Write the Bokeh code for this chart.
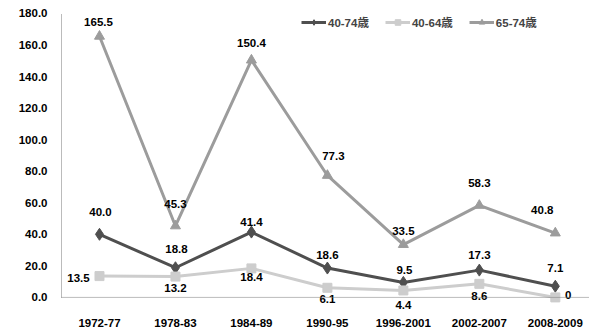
from bokeh.plotting import figure
from bokeh.models import Range1d, FixedTicker, NumeralTickFormatter, Span, Legend, LegendItem, ColumnDataSource
from bokeh.core.properties import value
from bokeh.embed import file_html
from bokeh.resources import INLINE

categories = ["1972-77", "1978-83", "1984-89", "1990-95", "1996-2001", "2002-2007", "2008-2009"]
series_names = ["40-74歳", "40-64歳", "65-74歳"]
s_40_74 = [40.0, 18.8, 41.4, 18.6, 9.5, 17.3, 7.1]
s_40_64 = [13.5, 13.2, 18.4, 6.1, 4.4, 8.6, 0]
s_65_74 = [165.5, 45.3, 150.4, 77.3, 33.5, 58.3, 40.8]
y_ticks = [0, 20, 40, 60, 80, 100, 120, 140, 160, 180]

FONT = "Liberation Sans, Noto Sans CJK JP"
FS = "11.5px"

# label offsets (screen px)
off_40_74 = [(1, -22), (1, -19), (0, -10), (0, -13), (1, -12), (0, -15), (0, -18)]
off_40_64 = [(-21, 2), (0, 11), (0, 9), (0, 11), (0, 15), (0, 12), (13, -2)]
off_65_74 = [(-1, -14), (0, -22), (0, -17), (6, -19), (0, -14), (0, -22), (-13, -23)]

xs = list(range(len(categories)))

p = figure(width=589, height=330, output_backend="svg", toolbar_location=None,
           x_range=Range1d(-0.5, 6.45), y_range=Range1d(-8.3, 188.2),
           min_border_left=61, min_border_right=0, min_border_top=0, min_border_bottom=20)
p.outline_line_color = None
p.xgrid.visible = False
p.ygrid.visible = False
p.background_fill_color = "white"

p.yaxis.ticker = FixedTicker(ticks=y_ticks)
p.yaxis.formatter = NumeralTickFormatter(format="0.0")
p.yaxis.bounds = (0, 180)
p.yaxis.axis_line_color = "#777777"
p.yaxis.axis_line_dash = "1 1"
p.yaxis.axis_line_width = 1
p.yaxis.major_tick_line_color = None
p.yaxis.minor_tick_line_color = None
p.yaxis.major_tick_out = 0
p.yaxis.minor_tick_out = 0
p.yaxis.major_label_standoff = 14
p.yaxis.major_label_text_font = FONT
p.yaxis.major_label_text_font_style = "bold"
p.yaxis.major_label_text_font_size = FS
p.yaxis.major_label_text_color = "black"

p.xaxis.ticker = FixedTicker(ticks=xs)
p.xaxis.major_label_overrides = {i: c for i, c in enumerate(categories)}
p.xaxis.axis_line_color = None
p.xaxis.major_tick_line_color = None
p.xaxis.minor_tick_line_color = None
p.xaxis.major_tick_out = 0
p.xaxis.minor_tick_out = 0
p.xaxis.major_label_standoff = 8
p.xaxis.major_label_text_font = FONT
p.xaxis.major_label_text_font_style = "bold"
p.xaxis.major_label_text_font_size = FS
p.xaxis.major_label_text_color = "black"

p.add_layout(Span(location=0, dimension="width", line_color="#777777", line_dash="1 1", line_width=1))

styles = [
    (s_40_74, "#4f4f4f", "diamond", 12, off_40_74),
    (s_40_64, "#cdcdcd", "square", 9, off_40_64),
    (s_65_74, "#9c9c9c", "triangle", 10, off_65_74),
]
items = []
label_sources = []
for name, (vals, col, mk, sz, offs) in zip(series_names, styles):
    r1 = p.line(xs, vals, line_color=col, line_width=3)
    r2 = p.scatter(xs, vals, marker=mk, size=sz, fill_color=col, line_color=col)
    items.append(LegendItem(label=name, renderers=[r1, r2]))
    labels = ["0" if v == 0 else f"{v:.1f}" for v in vals]
    label_sources.append(ColumnDataSource(dict(x=xs, y=vals, t=labels,
                                               dx=[o[0] for o in offs], dy=[o[1] for o in offs])))

for src in label_sources:
    p.text(x="x", y="y", text="t", source=src, x_offset="dx", y_offset="dy",
           text_align="center", text_baseline="middle", text_font=value(FONT),
           text_font_style="bold", text_font_size=FS, text_color="black")

legend = Legend(items=items, orientation="horizontal", location=(240, 280),
                background_fill_alpha=0, border_line_color=None,
                label_text_font=FONT, label_text_font_style="bold", label_text_font_size=FS,
                glyph_width=25, glyph_height=14, spacing=16, padding=2, margin=0,
                label_standoff=2)
p.add_layout(legend, "center")

open("out.html", "w").write(file_html(p, INLINE))
